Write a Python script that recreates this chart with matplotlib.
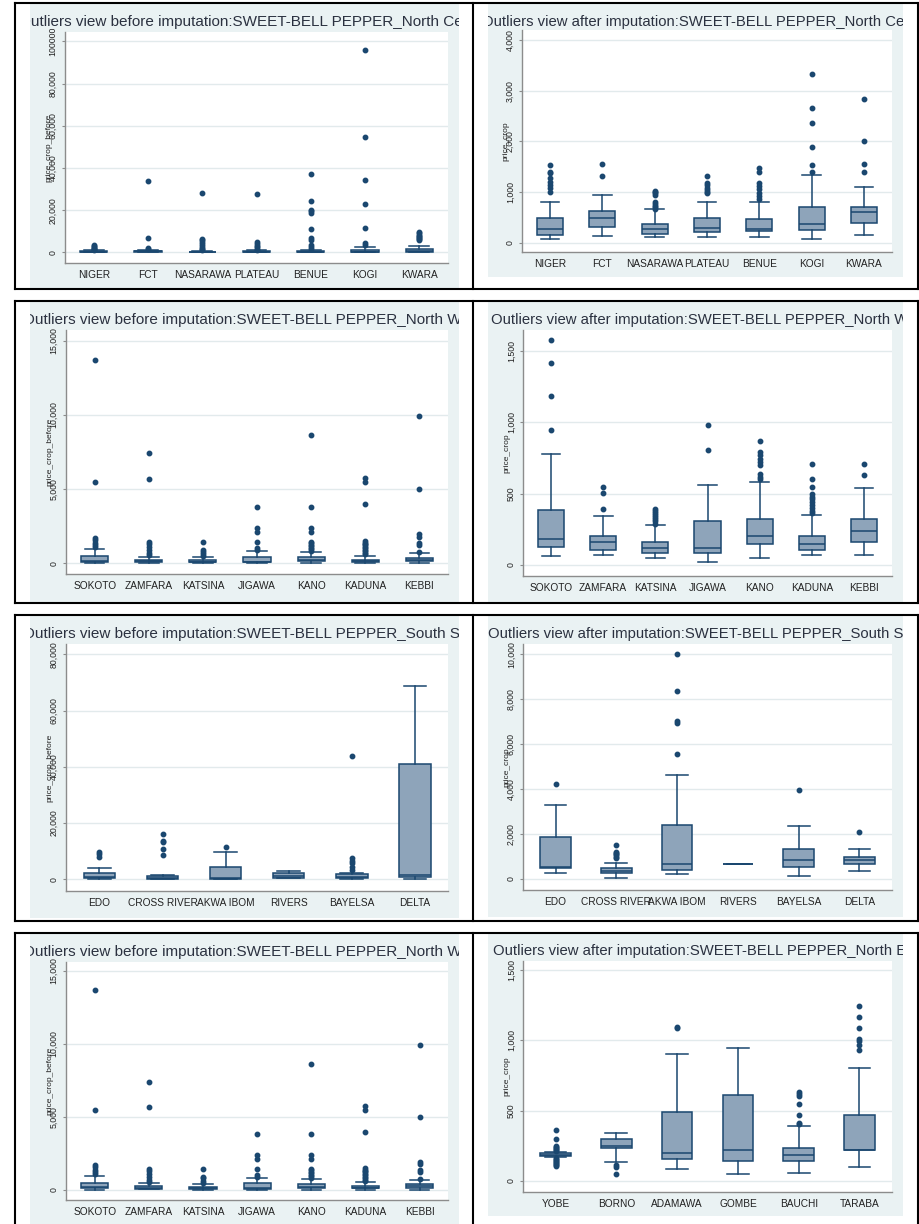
import matplotlib
matplotlib.use("Agg")
import matplotlib.pyplot as plt
from matplotlib.lines import Line2D

W, H = 919, 1224
plt.rcParams['font.family'] = ['Liberation Sans', 'DejaVu Sans']

NAVY = '#1a476f'
BOX_FILL = '#8ea4ba'
BG = '#eaf2f3'
AXIS = '#8c8c8c'
GRID = '#e2eaec'
TEXT = '#222222'

# ---------------- data -----------------

nc_cats = ['NIGER', 'FCT', 'NASARAWA', 'PLATEAU', 'BENUE', 'KOGI', 'KWARA']
nw_cats = ['SOKOTO', 'ZAMFARA', 'KATSINA', 'JIGAWA', 'KANO', 'KADUNA', 'KEBBI']
ss_cats = ['EDO', 'CROSS RIVER', 'AKWA IBOM', 'RIVERS', 'BAYELSA', 'DELTA']
ne_cats = ['YOBE', 'BORNO', 'ADAMAWA', 'GOMBE', 'BAUCHI', 'TARABA']

# North Central, before imputation
nc_before_q1 = [150, 300, 160, 200, 220, 250, 400]
nc_before_med = [280, 480, 270, 300, 280, 400, 700]
nc_before_q3 = [500, 650, 380, 500, 480, 1000, 1700]
nc_before_lo = [50, 100, 80, 80, 80, 50, 100]
nc_before_hi = [1000, 1300, 900, 1000, 1200, 2400, 3000]
nc_before_out = [
    [1200, 1500, 1800, 2200, 2600, 3000, 3500],
    [1600, 1900, 6900, 34100],
    [1000, 1500, 2000, 3000, 4000, 5000, 6000, 6600, 28100],
    [1200, 1800, 2500, 3200, 4000, 4800, 27600],
    [1500, 2500, 3500, 6000, 6800, 11000, 18500, 19500, 20200, 24300, 37300],
    [3400, 4500, 11700, 23200, 34400, 54800, 96000],
    [5800, 6300, 6800, 7300, 7800, 8400, 9000, 9600],
]

# North Central, after imputation
nc_after_q1 = [151, 303, 165, 204, 224, 250, 382]
nc_after_med = [276, 480, 270, 296, 276, 368, 599]
nc_after_q3 = [487, 632, 362, 487, 474, 697, 711]
nc_after_lo = [66, 132, 105, 105, 105, 72, 145]
nc_after_hi = [796, 941, 658, 803, 809, 1336, 1105]
nc_after_out = [
    [1000, 1070, 1140, 1200, 1270, 1370, 1400, 1530],
    [1323, 1560],
    [670, 700, 730, 760, 800, 950, 980, 1000, 1020],
    [975, 1000, 1030, 1080, 1130, 1170, 1323],
    [862, 921, 987, 1053, 1118, 1184, 1401, 1467],
    [1401, 1533, 1882, 2356, 2652, 3323],
    [1395, 1560, 2000, 2830],
]

# North West, before imputation
nw_before_q1 = [120, 100, 80, 90, 150, 110, 165]
nw_before_med = [180, 160, 120, 120, 200, 145, 240]
nw_before_q3 = [500, 250, 200, 450, 400, 250, 380]
nw_before_lo = [30, 40, 20, 10, 20, 30, 30]
nw_before_hi = [943, 449, 404, 830, 786, 516, 673]
nw_before_out = [
    [1100, 1250, 1400, 1550, 1700, 5455, 13717],
    [550, 700, 900, 1100, 1300, 1450, 5680, 7408],
    [500, 600, 790, 900, 1414],
    [900, 1010, 1414, 2133, 2402, 3816],
    [850, 950, 1050, 1150, 1250, 1350, 1450, 2130, 2400, 3816, 8643],
    [600, 700, 800, 900, 1000, 1100, 1200, 1300, 1400, 1500, 3973, 5500, 5770],
    [740, 1200, 1350, 1800, 1950, 5006, 9945],
]

# North West, after imputation
nw_after_q1 = [124, 105, 87, 87, 147, 105, 164]
nw_after_med = [180, 164, 122, 122, 201, 145, 241]
nw_after_q3 = [388, 201, 164, 311, 321, 201, 321]
nw_after_lo = [61, 73, 47, 23, 51, 70, 70]
nw_after_hi = [777, 342, 281, 562, 585, 351, 543]
nw_after_out = [
    [943, 1182, 1416, 1575],
    [393, 505, 548],
    [290, 305, 320, 335, 350, 365, 380, 395],
    [803, 978],
    [600, 620, 640, 700, 720, 740, 770, 790, 866],
    [363, 380, 400, 420, 440, 460, 480, 500, 545, 605, 709],
    [632, 709],
]

# South South, before imputation
ss_before_q1 = [400, 150, 150, 600, 350, 800]
ss_before_med = [950, 600, 300, 1300, 950, 1600]
ss_before_q3 = [2140, 1150, 4500, 2140, 1780, 41000]
ss_before_lo = [100, 50, 100, 300, 50, 100]
ss_before_hi = [4150, 1400, 9850, 3090, 2370, 68600]
ss_before_out = [
    [8070, 8900, 9850],
    [8660, 10800, 13200, 13650, 16100],
    [11400],
    [],
    [3320, 4500, 5700, 6500, 7480, 43700],
    [],
]

# South South, after imputation
ss_after_q1 = [506, 253, 402, 684, 520, 684]
ss_after_med = [550, 372, 684, 684, 862, 833]
ss_after_q3 = [1889, 491, 2424, 684, 1323, 996]
ss_after_lo = [253, 59, 208, 684, 134, 342]
ss_after_hi = [3286, 729, 4640, 684, 2364, 1323]
ss_after_out = [
    [4238],
    [950, 1000, 1050, 1100, 1150, 1200, 1517],
    [5562, 6945, 7019, 8357, 10022],
    [],
    [3940],
    [2111],
]

# North East, after imputation
ne_after_q1 = [180, 235, 157, 143, 145, 221]
ne_after_med = [188, 250, 202, 221, 183, 221]
ne_after_q3 = [197, 300, 487, 613, 238, 471]
ne_after_lo = [172, 138, 83, 50, 59, 100]
ne_after_hi = [205, 340, 901, 942, 390, 801]
ne_after_out = [
    [105, 112, 120, 128, 135, 142, 150, 158, 165, 215, 222, 230, 238, 245, 252, 300, 361],
    [48, 102, 114],
    [1089, 1096],
    [],
    [402, 410, 471, 549, 606, 620, 635],
    [932, 970, 994, 1006, 1087, 1165, 1241],
]

ticks_nc_before = [0, 20000, 40000, 60000, 80000, 100000]
labels_nc_before = ['0', '20,000', '40,000', '60,000', '80,000', '100000']
ticks_nc_after = [0, 1000, 2000, 3000, 4000]
labels_nc_after = ['0', '1,000', '2,000', '3,000', '4,000']
ticks_nw_before = [0, 5000, 10000, 15000]
labels_nw_before = ['0', '5,000', '10,000', '15,000']
ticks_500 = [0, 500, 1000, 1500]
labels_500 = ['0', '500', '1,000', '1,500']
ticks_ss_before = [0, 20000, 40000, 60000, 80000]
labels_ss_before = ['0', '20,000', '40,000', '60,000', '80,000']
ticks_ss_after = [0, 2000, 4000, 6000, 8000, 10000]
labels_ss_after = ['0', '2,000', '4,000', '6,000', '8,000', '10,000']

T_BEFORE = 'Outliers view before imputation:SWEET-BELL PEPPER_'
T_AFTER = 'Outliers view after imputation:SWEET-BELL PEPPER_'


def make_stats(q1, med, q3, lo, hi, out):
    return [dict(q1=a, med=b, q3=c, whislo=d, whishi=e, fliers=f)
            for a, b, c, d, e, f in zip(q1, med, q3, lo, hi, out)]


def frac(x0, y0, x1, y1):
    return [x0 / W, 1 - y1 / H, (x1 - x0) / W, (y1 - y0) / H]


panels = [
    dict(bg=(30, 4, 459, 287.5), plot=(65, 32, 448, 263), cats=nc_cats,
         stats=make_stats(nc_before_q1, nc_before_med, nc_before_q3, nc_before_lo, nc_before_hi, nc_before_out),
         ylim=(-5000, 104500), ticks=ticks_nc_before, labels=labels_nc_before,
         ylabel='price_crop_before', title=T_BEFORE + 'North Central', tx=19, ty=21.7, tfs=11),
    dict(bg=(488.3, 4, 902.7, 276.7), plot=(522.3, 30, 891.7, 252.3), cats=nc_cats,
         stats=make_stats(nc_after_q1, nc_after_med, nc_after_q3, nc_after_lo, nc_after_hi, nc_after_out),
         ylim=(-190, 4198), ticks=ticks_nc_after, labels=labels_nc_after,
         ylabel='price_crop', title=T_AFTER + 'North Central', tx=482.5, ty=21.7, tfs=10.7),
    dict(bg=(30, 302, 459, 601.5), plot=(66, 330, 448, 574), cats=nw_cats,
         stats=make_stats(nw_before_q1, nw_before_med, nw_before_q3, nw_before_lo, nw_before_hi, nw_before_out),
         ylim=(-721, 15720), ticks=ticks_nw_before, labels=labels_nw_before,
         ylabel='price_crop_before', title=T_BEFORE + 'North West', tx=22.5, ty=320, tfs=11),
    dict(bg=(488.3, 302, 902.7, 601.5), plot=(523.3, 330, 891.7, 576), cats=nw_cats,
         stats=make_stats(nw_after_q1, nw_after_med, nw_after_q3, nw_after_lo, nw_after_hi, nw_after_out),
         ylim=(-77, 1647), ticks=ticks_500, labels=labels_500,
         ylabel='price_crop', title=T_AFTER + 'North West', tx=490.7, ty=320, tfs=10.7),
    dict(bg=(30, 616, 459, 917.7), plot=(66, 644.3, 448.3, 891), cats=ss_cats,
         stats=make_stats(ss_before_q1, ss_before_med, ss_before_q3, ss_before_lo, ss_before_hi, ss_before_out),
         ylim=(-4160, 83555), ticks=ticks_ss_before, labels=labels_ss_before,
         ylabel='price_crop_before', title=T_BEFORE + 'South South', tx=22.5, ty=634.3, tfs=11),
    dict(bg=(488.3, 616, 902.7, 916.7), plot=(523.3, 644.3, 891.7, 890), cats=ss_cats,
         stats=make_stats(ss_after_q1, ss_after_med, ss_after_q3, ss_after_lo, ss_after_hi, ss_after_out),
         ylim=(-490, 10447), ticks=ticks_ss_after, labels=labels_ss_after,
         ylabel='price_crop', title=T_AFTER + 'South South', tx=487.7, ty=634.3, tfs=10.7),
    dict(bg=(30, 934, 459, 1224), plot=(66, 961.7, 448.3, 1200), cats=nw_cats,
         stats=make_stats(nw_before_q1, nw_before_med, nw_before_q3, nw_before_lo, nw_before_hi, nw_before_out),
         ylim=(-685, 15637), ticks=ticks_nw_before, labels=labels_nw_before,
         ylabel='price_crop_before', title=T_BEFORE + 'North West', tx=22.5, ty=951.7, tfs=11),
    dict(bg=(488.3, 934, 902.7, 1216), plot=(523.3, 960.7, 891.7, 1191.7), cats=ne_cats,
         stats=make_stats(ne_after_q1, ne_after_med, ne_after_q3, ne_after_lo, ne_after_hi, ne_after_out),
         ylim=(-76, 1566), ticks=ticks_500, labels=labels_500,
         ylabel='price_crop', title=T_AFTER + 'North East', tx=493.3, ty=950.7, tfs=10.7),
]

fig = plt.figure(figsize=(W / 100, H / 100), dpi=100)
fig.patch.set_facecolor('white')

for p in panels:
    bx0, by0, bx1, by1 = p['bg']
    bg_ax = fig.add_axes(frac(*p['bg']))
    bg_ax.set_facecolor(BG)
    bg_ax.set_xticks([])
    bg_ax.set_yticks([])
    for s in bg_ax.spines.values():
        s.set_visible(False)
    bg_ax.set_xlim(0, 1)
    bg_ax.set_ylim(0, 1)
    bg_ax.text((p['tx'] - bx0) / (bx1 - bx0), 1 - (p['ty'] - by0) / (by1 - by0), p['title'],
               fontsize=p['tfs'], color='#2b3140', ha='left', va='center', clip_on=True)

    px0, py0, px1, py1 = p['plot']
    ax = fig.add_axes(frac(*p['plot']))
    ax.set_facecolor('white')
    n = len(p['cats'])
    ax.bxp(p['stats'], positions=list(range(n)), widths=0.5, patch_artist=True,
           manage_ticks=False, capwidths=0.36,
           boxprops=dict(facecolor=BOX_FILL, edgecolor=NAVY, linewidth=1.1),
           medianprops=dict(color=NAVY, linewidth=1.1),
           whiskerprops=dict(color=NAVY, linewidth=1.1),
           capprops=dict(color=NAVY, linewidth=1.1),
           flierprops=dict(marker='o', markerfacecolor=NAVY, markeredgecolor=NAVY,
                           markersize=3.2, linestyle='none'))
    ax.set_xlim(-0.53, n - 0.47)
    ax.set_ylim(*p['ylim'])
    ax.set_xticks(range(n))
    ax.set_xticklabels(p['cats'], fontsize=7.3, color=TEXT)
    ax.set_yticks(p['ticks'])
    ax.set_yticklabels(p['labels'], fontsize=6.3, color=TEXT, rotation=90, va='center')
    ax.tick_params(axis='x', length=0, pad=5)
    ax.tick_params(axis='y', length=2.5, color=AXIS, pad=3)
    ax.yaxis.grid(True, color=GRID, linewidth=1)
    ax.set_axisbelow(True)
    for side in ['top', 'right']:
        ax.spines[side].set_visible(False)
    for side in ['left', 'bottom']:
        ax.spines[side].set_color(AXIS)
        ax.spines[side].set_linewidth(1)
    ax.set_ylabel(p['ylabel'], fontsize=6, color=TEXT)
    ax.yaxis.set_label_coords(-13 / (px1 - px0), 0.5)

# table borders
def hline(y, x0=15, x1=918):
    fig.add_artist(Line2D([x0 / W, x1 / W], [1 - y / H, 1 - y / H], color='black', lw=1.5))


def vline(x, y0, y1):
    fig.add_artist(Line2D([x / W, x / W], [1 - y0 / H, 1 - y1 / H], color='black', lw=1.5))


rows = [(3, 288.5), (300.7, 602.5), (615, 920.8), (933, 1224)]
for top, bottom in rows:
    hline(top)
    if bottom < H:
        hline(bottom)
    for x in [15, 473.3, 917.7]:
        vline(x, top, bottom)

fig.savefig('out.png', dpi=100)
